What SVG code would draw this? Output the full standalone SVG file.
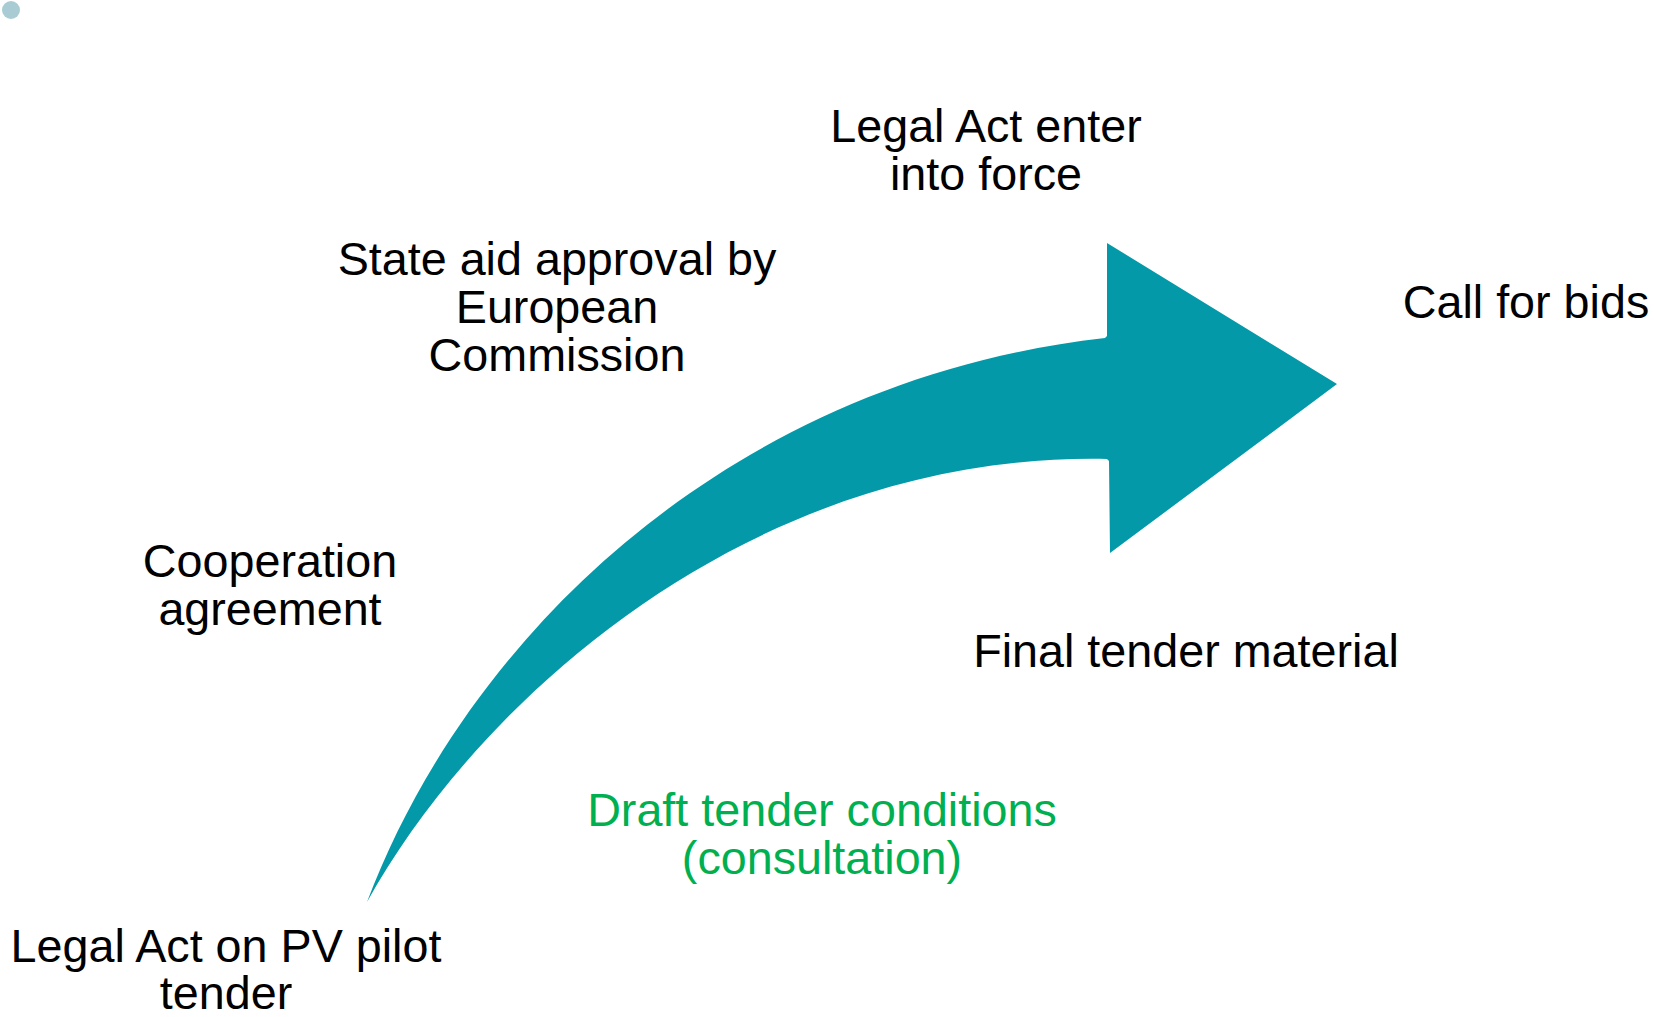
<svg xmlns="http://www.w3.org/2000/svg" width="1654" height="1017" viewBox="0 0 1654 1017">
<style>
.t{font-family:"Liberation Sans",Arial,sans-serif;font-size:46.7px;fill:#000;text-anchor:middle}
.g{fill:#00B050}
</style>
<rect width="1654" height="1017" fill="#fff"/>
<circle cx="11" cy="10" r="9" fill="#a9ccd4"/>
<g id="connectors">
<path id="arrow" fill="#0399a8" d="M367,902 C470,630 735,380 1105,338 L1107,336 L1107,243 L1337,384 L1110,553 L1109,461 L1107,459 C760,452 485,690 367,902 Z"/>
</g>
<g id="n1"><text class="t" x="986" y="142">Legal Act enter</text><text class="t" x="986" y="190">into force</text></g>
<g id="n2"><text class="t" x="557" y="275">State aid approval by</text><text class="t" x="557" y="323">European</text><text class="t" x="557" y="371">Commission</text></g>
<g id="n3"><text class="t" x="1526" y="318">Call for bids</text></g>
<g id="n4"><text class="t" x="270" y="577">Cooperation</text><text class="t" x="270" y="625">agreement</text></g>
<g id="n5"><text class="t" x="1186" y="667">Final tender material</text></g>
<g id="n6"><text class="t g" x="822" y="826">Draft tender conditions</text><text class="t g" x="822" y="874">(consultation)</text></g>
<g id="n7"><text class="t" x="226" y="962">Legal Act on PV pilot</text><text class="t" x="226" y="1009">tender</text></g>
</svg>
